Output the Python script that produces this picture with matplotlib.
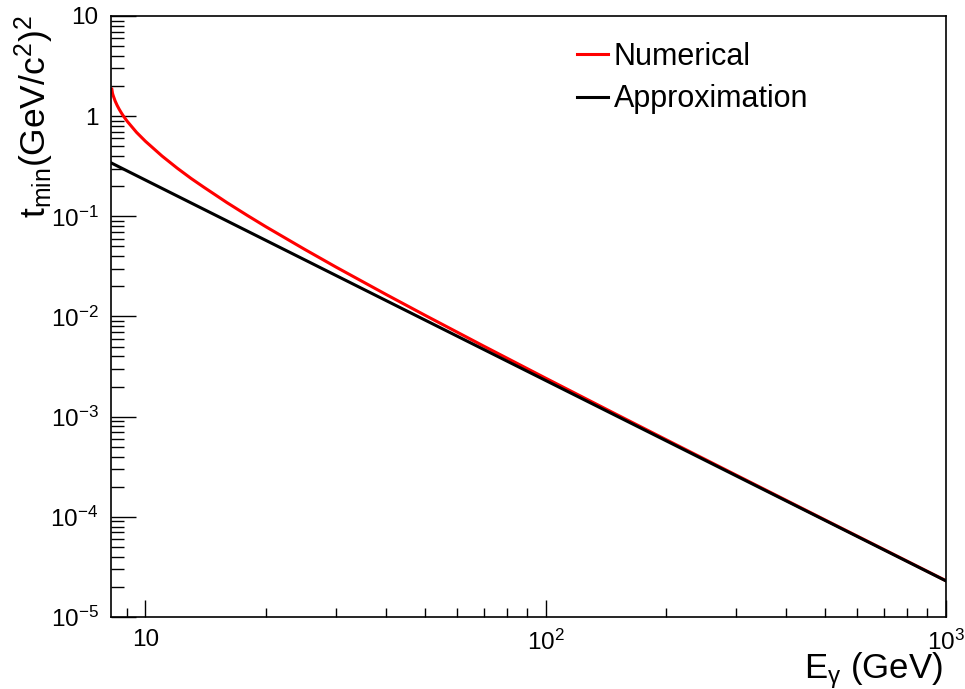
import matplotlib
matplotlib.use("Agg")
import matplotlib.pyplot as plt
import matplotlib.ticker as ticker
import numpy as np

# ── Data ──────────────────────────────────────────────────────────────────────
E_num = [8.24, 8.25, 8.27, 8.3, 8.4, 8.5, 8.6, 8.7, 8.8, 9.0, 9.5, 10, 11, 12,
         13, 14, 16, 18, 20, 25, 30, 40, 50, 70, 100, 150, 200, 300, 500, 700,
         1000]
t_num = [1.86, 1.815, 1.70, 1.616, 1.415, 1.276, 1.169, 1.082, 1.008, 0.890,
         0.689, 0.561, 0.400, 0.303, 0.239, 0.195, 0.1367, 0.1017, 0.0787,
         0.0468, 0.0310, 0.01654, 0.01027, 0.00507, 0.002425, 0.001058,
         0.000590, 0.000260, 9.29e-5, 4.73e-5, 2.31e-5]

E_app = [8.24, 10, 20, 50, 100, 200, 500, 1000]
t_app = [0.339, 0.230, 0.0575, 0.0092, 0.0023, 0.000575, 9.2e-5, 2.3e-5]

# ── Style ─────────────────────────────────────────────────────────────────────
plt.rcParams.update({
    "font.family":       "Liberation Sans",
    "mathtext.fontset":  "custom",
    "mathtext.rm":       "Liberation Sans",
    "mathtext.it":       "Liberation Sans:italic",
    "mathtext.default":  "regular",
    "axes.linewidth":    1.2,
})


def log_label(v, pos):
    n = int(round(np.log10(v)))
    if n == 0:
        return "1"
    if n == 1:
        return "10"
    return rf"$10^{{{n}}}$"


fig = plt.figure(figsize=(9.65, 6.89), dpi=100)
ax = fig.add_axes([0.115, 0.1045, 0.865, 0.8723])

ax.plot(E_num, t_num, color="#ff0000", lw=2.2, label="Numerical")
ax.plot(E_app, t_app, color="black", lw=2.2, label="Approximation")

ax.set_xscale("log")
ax.set_yscale("log")
ax.set_xlim(8.2, 1000)
ax.set_ylim(1e-5, 10)

ax.xaxis.set_major_locator(ticker.FixedLocator([10, 100, 1000]))
ax.xaxis.set_major_formatter(ticker.FuncFormatter(log_label))
ax.xaxis.set_minor_locator(ticker.LogLocator(base=10, subs=np.arange(2, 10)))
ax.xaxis.set_minor_formatter(ticker.NullFormatter())
ax.yaxis.set_major_locator(ticker.FixedLocator([1e-5, 1e-4, 1e-3, 1e-2, 1e-1, 1, 10]))
ax.yaxis.set_major_formatter(ticker.FuncFormatter(log_label))
ax.yaxis.set_minor_locator(ticker.LogLocator(base=10, subs=np.arange(2, 10), numticks=20))
ax.yaxis.set_minor_formatter(ticker.NullFormatter())

ax.tick_params(which="both", direction="in", top=False, right=False,
               width=1.0, labelsize=17.5)
ax.tick_params(axis="y", which="major", length=18, pad=9)
ax.tick_params(axis="y", which="minor", length=9.5)
ax.tick_params(axis="x", which="major", length=12.5, pad=9)
ax.tick_params(axis="x", which="minor", length=6.5)

# x title, right-aligned on its baseline
ax.set_xlabel(r"E$_{\gamma}$ (GeV)", fontsize=25, va="baseline", ha="right")
ax.xaxis.set_label_coords(0.9968, -0.1015)

# y title, rotated, baseline placed as in ROOT
fig.text(46 / 965, 1 - 218 / 689, r"t$_{min}$(GeV/c$^{2}$)$^{2}$",
         fontsize=25.5, rotation=90, rotation_mode="anchor",
         ha="left", va="baseline")

fig.legend(loc="upper left", bbox_to_anchor=(577 / 965, 1 - 42 / 689),
           frameon=False, fontsize=22, handlelength=1.0, handletextpad=0.2,
           borderpad=0, borderaxespad=0, labelspacing=0.4)

fig.savefig("out.png", dpi=100)
